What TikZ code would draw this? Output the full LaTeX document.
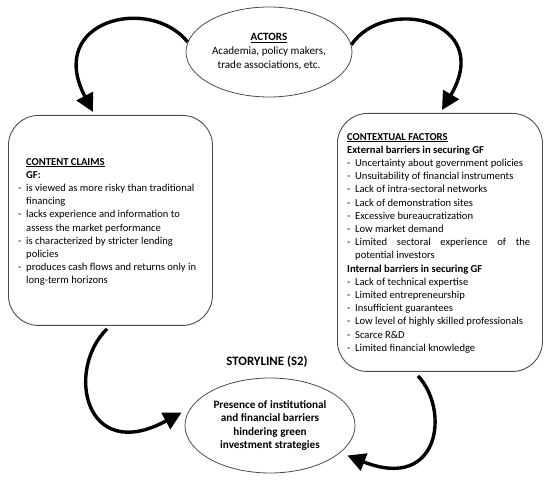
\documentclass[tikz,border=0pt]{standalone}
\usepackage{fontspec}
\setmainfont{Carlito}
\usetikzlibrary{arrows.meta,shapes.geometric}
\begin{document}
\begin{tikzpicture}[x=1pt,y=-1pt,
  ell/.style={draw=black!70, line width=0.8pt, ellipse, inner sep=0pt, align=center},
  rbox/.style={draw=black!70, line width=0.9pt, rounded corners=30pt, inner sep=0pt},
  flow/.style={line width=3.4pt, -{Triangle[length=18pt,width=18pt]}},
  txt/.style={font=\fontsize{10.6}{13.2}\selectfont, inner sep=0pt, anchor=north west, align=left}
]
\useasboundingbox (0,0) rectangle (550,481);
\newcommand{\itm}{\makebox[8pt][l]{-}}
\newcommand{\ind}{\hspace*{8pt}}
% actors
\node[ell, minimum width=166pt, minimum height=90pt, font=\fontsize{11.1}{14}\selectfont] (actors) at (269,52)
  {\underline{\textbf{ACTORS}}\\Academia, policy makers,\\trade associations, etc.};
% boxes
\node[rbox, minimum width=204pt, minimum height=210pt, anchor=north west] (claims) at (8,115) {};
\node[rbox, minimum width=205pt, minimum height=258pt, anchor=north west] (factors) at (337,113) {};
% storyline
\node[ell, minimum width=170pt, minimum height=95pt, font=\bfseries\fontsize{11.2}{13.3}\selectfont] (story) at (270,425.5)
  {Presence of institutional\\and financial barriers\\hindering green\\investment strategies};
\node[font=\bfseries\fontsize{12.8}{14}\selectfont, inner sep=0pt] (slabel) at (267,362) {STORYLINE (S2)};
% texts
\node[txt] (claimstxt) at (18,158) {%
\ind\underline{\textbf{CONTENT CLAIMS}}\\
\ind\textbf{GF:}\\
\itm is viewed as more risky than traditional\\
\ind financing\\
\itm lacks experience and information to\\
\ind assess the market performance\\
\itm is characterized by stricter lending\\
\ind policies\\
\itm produces cash flows and returns only in\\
\ind long-term horizons};
\node[txt] (factorstxt) at (347,133) {%
\underline{\textbf{CONTEXTUAL FACTORS}}\\
\textbf{External barriers in securing GF}\\
\itm Uncertainty about government policies\\
\itm Unsuitability of financial instruments\\
\itm Lack of intra-sectoral networks\\
\itm Lack of demonstration sites\\
\itm Excessive bureaucratization\\
\itm Low market demand\\
\itm\hbox to 175pt{Limited\hfill sectoral\hfill experience\hfill of\hfill the}\\
\ind potential investors\\
\textbf{Internal barriers in securing GF}\\
\itm Lack of technical expertise\\
\itm Limited entrepreneurship\\
\itm Insufficient guarantees\\
\itm Low level of highly skilled professionals\\
\itm Scarce R\&D\\
\itm Limited financial knowledge};
% arrows
\draw[flow] (actors.173) .. controls (150,-5) and (45,20) .. ([shift={(85,-3)}]claims.north west);
\draw[flow] (actors.5) .. controls (385,-5) and (495,20) .. ([shift={(105,-3)}]factors.north west);
\draw[flow] ([shift={(99,3)}]claims.south west) .. controls (65,370) and (85,465) .. ([shift={(-3,-13)}]story.west);
\draw[flow] ([shift={(81,4)}]factors.south west) .. controls (450,410) and (440,492) .. ([shift={(-8,30)}]story.east);
\end{tikzpicture}
\end{document}
